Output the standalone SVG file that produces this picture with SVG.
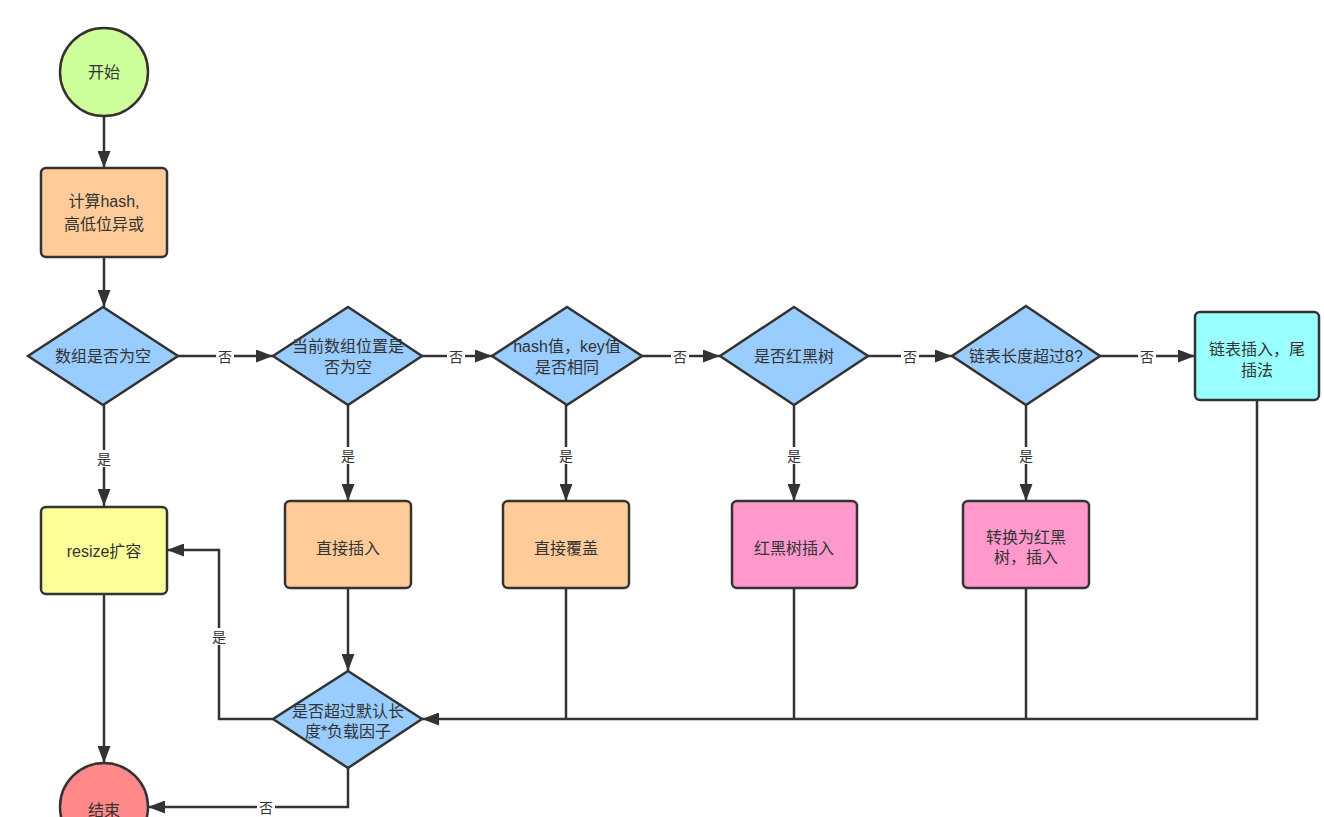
<svg xmlns="http://www.w3.org/2000/svg" width="1324" height="817" viewBox="0 0 1324 817">
<defs>
<marker id="ah" viewBox="0 0 17 13" refX="17" refY="6.5" markerWidth="17" markerHeight="13" markerUnits="userSpaceOnUse" orient="auto">
<path d="M0,0 L17,6.5 L0,13 Z" fill="#333"/>
</marker>
<style>
.n{stroke:#333;stroke-width:2.5}
.t{font-family:"Liberation Sans","Noto Sans CJK SC",sans-serif;font-size:16px;fill:#333;text-anchor:middle;dominant-baseline:central}
.l{font-family:"Liberation Sans","Noto Sans CJK SC",sans-serif;font-size:14px;fill:#333;text-anchor:middle;dominant-baseline:central}
.c{fill:none;stroke:#333;stroke-width:2.5}
.lb{fill:#fff}
</style>
</defs>
<rect width="1324" height="817" fill="#fff"/>
<g id="connectors">
<path class="c" d="M104,117 V168" marker-end="url(#ah)"/>
<path class="c" d="M104,257 V307" marker-end="url(#ah)"/>
<path class="c" d="M178,356 H273" marker-end="url(#ah)"/>
<path class="c" d="M422,356 H492" marker-end="url(#ah)"/>
<path class="c" d="M642,356 H720" marker-end="url(#ah)"/>
<path class="c" d="M868,356 H952" marker-end="url(#ah)"/>
<path class="c" d="M1100,356 H1195" marker-end="url(#ah)"/>
<path class="c" d="M104,405 V506" marker-end="url(#ah)"/>
<path class="c" d="M348,405 V501" marker-end="url(#ah)"/>
<path class="c" d="M566,405 V501" marker-end="url(#ah)"/>
<path class="c" d="M794,405 V501" marker-end="url(#ah)"/>
<path class="c" d="M1026,405 V501" marker-end="url(#ah)"/>
<path class="c" d="M348,588 V671" marker-end="url(#ah)"/>
<path class="c" d="M104,594 V763" marker-end="url(#ah)"/>
<path class="c" d="M566,588 V719"/>
<path class="c" d="M794,588 V719"/>
<path class="c" d="M1026,588 V719"/>
<path class="c" d="M1257,400 V719 H422" marker-end="url(#ah)"/>
<path class="c" d="M273,719 H219 V550 H167" marker-end="url(#ah)"/>
<path class="c" d="M348,768 V807 H148" marker-end="url(#ah)"/>
<rect class="lb" x="216" y="348" width="18" height="17"/><text class="l" x="225" y="357">否</text>
<rect class="lb" x="447" y="348" width="18" height="17"/><text class="l" x="456" y="357">否</text>
<rect class="lb" x="671" y="348" width="18" height="17"/><text class="l" x="680" y="357">否</text>
<rect class="lb" x="901" y="348" width="18" height="17"/><text class="l" x="910" y="357">否</text>
<rect class="lb" x="1138" y="348" width="18" height="17"/><text class="l" x="1147" y="357">否</text>
<rect class="lb" x="95" y="450" width="18" height="17"/><text class="l" x="104" y="459">是</text>
<rect class="lb" x="339" y="447" width="18" height="17"/><text class="l" x="348" y="456">是</text>
<rect class="lb" x="557" y="447" width="18" height="17"/><text class="l" x="566" y="456">是</text>
<rect class="lb" x="785" y="447" width="18" height="17"/><text class="l" x="794" y="456">是</text>
<rect class="lb" x="1017" y="447" width="18" height="17"/><text class="l" x="1026" y="456">是</text>
<rect class="lb" x="210" y="628" width="18" height="17"/><text class="l" x="219" y="637">是</text>
<rect class="lb" x="257" y="799" width="18" height="17"/><text class="l" x="266" y="808">否</text>
</g>
<g id="start"><circle class="n" cx="104" cy="72" r="44" fill="#ccff99"/><text class="t" x="104" y="72">开始</text></g>
<g id="hash"><rect class="n" x="41" y="168" width="126" height="89" rx="5" fill="#ffcc99"/><text class="t" x="104" y="201">计算hash,</text><text class="t" x="104" y="224">高低位异或</text></g>
<g id="d1"><polygon class="n" points="103,307 178,356 103,405 28,356" fill="#99ccff"/><text class="t" x="103" y="356">数组是否为空</text></g>
<g id="d2"><polygon class="n" points="348,307 422,356 348,405 273,356" fill="#99ccff"/><text class="t" x="348" y="346">当前数组位置是</text><text class="t" x="348" y="367">否为空</text></g>
<g id="d3"><polygon class="n" points="567,307 642,356 567,405 492,356" fill="#99ccff"/><text class="t" x="567" y="346">hash值，key值</text><text class="t" x="567" y="367">是否相同</text></g>
<g id="d4"><polygon class="n" points="794,307 868,356 794,405 720,356" fill="#99ccff"/><text class="t" x="794" y="356">是否红黑树</text></g>
<g id="d5"><polygon class="n" points="1026,306 1100,356 1026,405 952,356" fill="#99ccff"/><text class="t" x="1026" y="356">链表长度超过8?</text></g>
<g id="list"><rect class="n" x="1195" y="312" width="124" height="88" rx="5" fill="#99ffff"/><text class="t" x="1257" y="349">链表插入，尾</text><text class="t" x="1257" y="370">插法</text></g>
<g id="resize"><rect class="n" x="41" y="507" width="126" height="87" rx="5" fill="#ffff99"/><text class="t" x="104" y="551">resize扩容</text></g>
<g id="insert"><rect class="n" x="285" y="501" width="126" height="87" rx="5" fill="#ffcc99"/><text class="t" x="348" y="548">直接插入</text></g>
<g id="cover"><rect class="n" x="503" y="501" width="126" height="87" rx="5" fill="#ffcc99"/><text class="t" x="566" y="548">直接覆盖</text></g>
<g id="rbinsert"><rect class="n" x="732" y="501" width="125" height="87" rx="5" fill="#ff99cc"/><text class="t" x="794" y="548">红黑树插入</text></g>
<g id="convert"><rect class="n" x="963" y="501" width="126" height="87" rx="5" fill="#ff99cc"/><text class="t" x="1026" y="537">转换为红黑</text><text class="t" x="1026" y="557">树，插入</text></g>
<g id="d6"><polygon class="n" points="348,671 422,719 348,768 273,719" fill="#99ccff"/><text class="t" x="348" y="711">是否超过默认长</text><text class="t" x="348" y="731">度*负载因子</text></g>
<g id="end"><circle class="n" cx="104" cy="807" r="44" fill="#ff8888"/><text class="t" x="104" y="810">结束</text></g>
</svg>
